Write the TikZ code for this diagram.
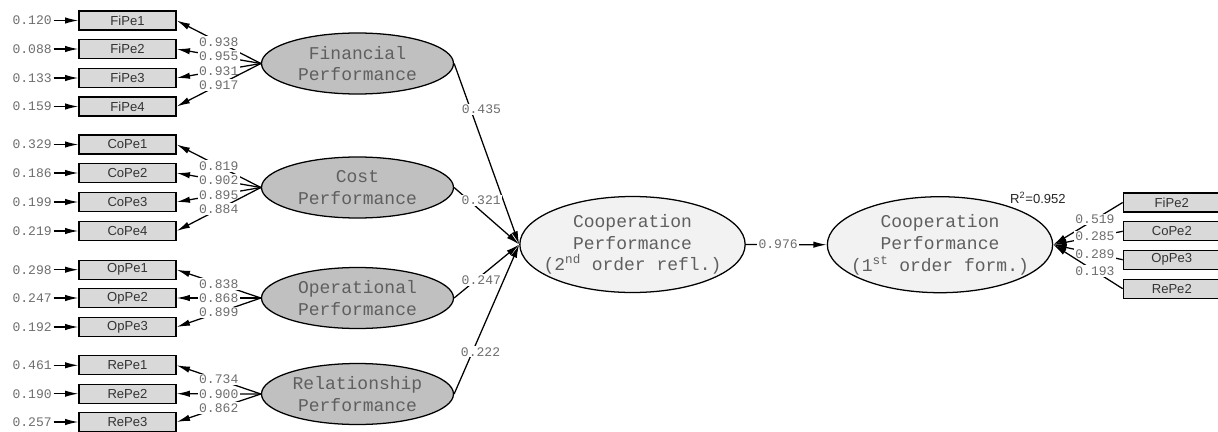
\documentclass[tikz,border=0pt]{standalone}
\usepackage{fontspec}
\newfontfamily\plsmono{Liberation Mono}
\newfontfamily\plssans{Liberation Sans}
\usetikzlibrary{arrows.meta,shapes.geometric,positioning}
\definecolor{boxgray}{RGB}{217,217,217}
\definecolor{latgray}{RGB}{192,192,192}
\definecolor{hocgray}{RGB}{242,242,242}
\definecolor{numgray}{RGB}{110,110,110}
\definecolor{txtgray}{RGB}{95,95,95}
\tikzset{
    ind/.style={draw, fill=boxgray, minimum width=72.75pt, minimum height=14.25pt, inner sep=0pt,
        font=\plssans\fontsize{9.8}{11}\selectfont, text=black!80},
    lat/.style={ellipse, draw, fill=latgray, minimum width=144pt, minimum height=45.75pt, inner sep=0pt,
        align=center, font=\plsmono\fontsize{13.5}{16.25}\selectfont, text=txtgray},
    hoc/.style={lat, fill=hocgray, minimum width=169pt, minimum height=72pt, inner xsep=-12pt},
    coef/.style={fill=white, inner sep=1pt, font=\plsmono\fontsize{9.8}{11}\selectfont, text=numgray},
    err/.style={coef, fill=none}
}
\begin{document}
\begin{tikzpicture}[x=0.75pt,y=-0.75pt,line width=0.95pt,>={Latex[length=10pt,width=4.8pt]}]
        \useasboundingbox (0,0) rectangle (1218,432);
        % first order constructs
        \node[lat] (fin) at (357.5,63.5) {Financial\\Performance};
        \node[lat] (cost) at (357.5,187.5) {Cost\\Performance};
        \node[lat] (oper) at (357.5,298) {Operational\\Performance};
        \node[lat] (rel) at (357.5,394) {Relationship\\Performance};
        % second order construct, both modes
        \node[hoc] (refl) at (632.5,244.5) {Cooperation\\Performance\\(2\textsuperscript{nd} order refl.)};
        \node[hoc] (form) at (940,244.7) {Cooperation\\Performance\\(1\textsuperscript{st} order form.)};
        \foreach \n/\y/\e/\l/\c in {FiPe1/20.5/0.120/0.938/fin,FiPe2/49/0.088/0.955/fin,
            FiPe3/78/0.133/0.931/fin,FiPe4/106.5/0.159/0.917/fin,
            CoPe1/144.5/0.329/0.819/cost,CoPe2/173/0.186/0.902/cost,
            CoPe3/202/0.199/0.895/cost,CoPe4/231/0.219/0.884/cost,
            OpPe1/269.7/0.298/0.838/oper,OpPe2/298/0.247/0.868/oper,OpPe3/327/0.192/0.899/oper,
            RePe1/365.3/0.461/0.734/rel,RePe2/393.7/0.190/0.900/rel,RePe3/422/0.257/0.862/rel}{
            \node[ind] (\n) at (127.5,\y) {\n};
            \node[err,left=18.5pt of \n] (e\n) {\e};
            \draw [->] (e\n) -- (\n);
            \draw [->] (\c.west) -- node[coef]{\l} (\n.east);
        }
        \draw [->] (fin.east) -- node[coef,pos=.255,xshift=8pt]{0.435} (refl.west);
        \draw [->] (cost.east) -- node[coef,pos=.23,xshift=9pt]{0.321} (refl.west);
        \draw [->] (oper.east) -- node[coef,pos=.336,xshift=4pt]{0.247} (refl.west);
        \draw [->] (rel.east) -- node[coef,pos=.283,xshift=6pt]{0.222} (refl.west);
        \draw [->] (refl.east) -- node[coef,pos=.4]{0.976} (form.west);
        \foreach[count=\i] \n/\y/\w in {FiPe2/202.5/0.519,CoPe2/231.3/0.285,OpPe3/259.7/0.289,RePe2/288.7/0.193}{
            \node[ind] (f\i) at (1171.8,\y) {\n};
            \draw [->] (f\i.west) -- node[coef,pos=.4]{\w} (form.east);
        }
        \node[font=\plssans\fontsize{9.8}{11}\selectfont,text=black!85] (rsq) at (1038,198) {R\textsuperscript{2}=0.952};
\end{tikzpicture}
\end{document}
